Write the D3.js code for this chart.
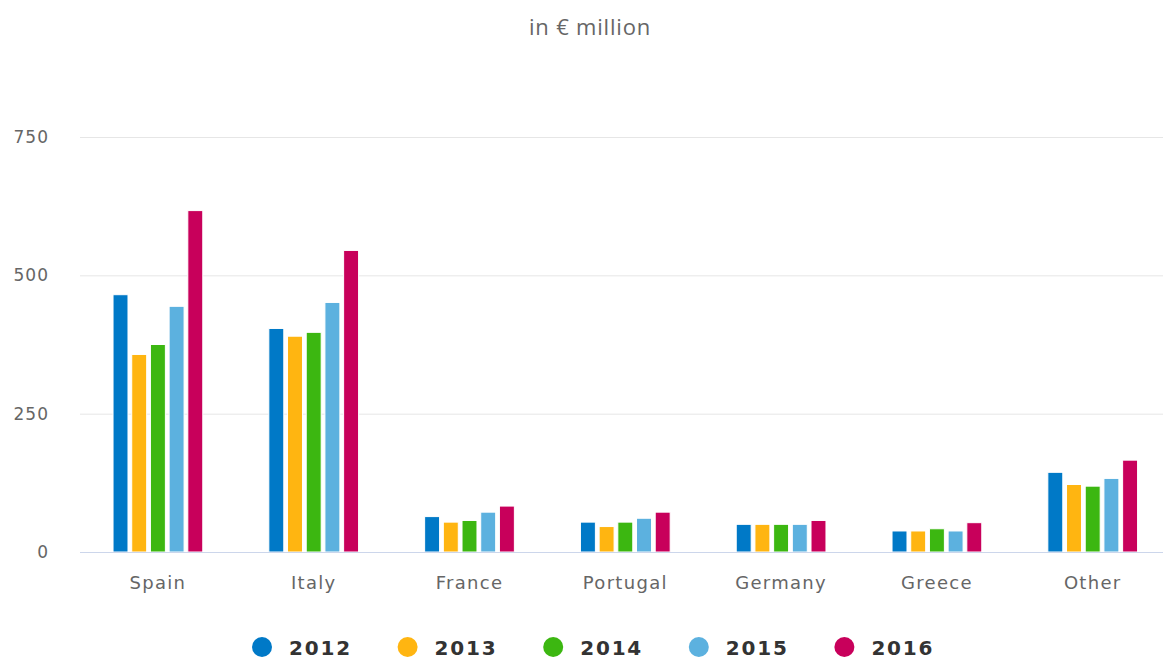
<!DOCTYPE html>
<style>
body { margin: 0; background: #fff; }
svg { display: block; }
.tick text { font-family: "DejaVu Sans", sans-serif; }
</style>
<svg width="1163" height="659"></svg>
<script src="https://d3js.org/d3.v7.min.js"></script>
<script>

var countries = ["Spain", "Italy", "France", "Portugal", "Germany", "Greece", "Other"];
var years = ["2012", "2013", "2014", "2015", "2016"];
var colors = ["#0079c7", "#ffb511", "#3cb711", "#5cb1df", "#c8005b"];
var yTicks = [0, 250, 500, 750];

// one array per year, values in € million, in country order
var v2012 = [465, 404, 64, 54, 50, 38, 144];
var v2013 = [357, 390, 54, 46, 50, 38, 122];
var v2014 = [375, 397, 57, 54, 50, 42, 119];
var v2015 = [444, 451, 72, 61, 50, 38, 133];
var v2016 = [617, 545, 83, 72, 57, 53, 166];
var series = [v2012, v2013, v2014, v2015, v2016];

var svg = d3.select("svg"),
    width = +svg.attr("width"),
    height = +svg.attr("height");

var plotLeft = 80, plotRight = 1170.6, plotTop = 137, plotBottom = 552;

var x0 = d3.scaleBand()
    .domain(countries)
    .range([plotLeft, plotRight]);

var bw = x0.bandwidth();
var x1 = d3.scaleBand()
    .domain(years)
    .range([0.2 * bw, 0.8 * bw])
    .paddingInner(0.2)
    .paddingOuter(0.1);

var y = d3.scaleLinear()
    .domain([0, 750])
    .range([plotBottom, plotTop]);

// subtitle
svg.append("text")
    .attr("x", 590)
    .attr("y", 35)
    .attr("text-anchor", "middle")
    .attr("fill", "#666")
    .style("font", "22px 'Open Sans', sans-serif")
    .style("letter-spacing", "0.8px")
    .text("in € million");

// grid + y labels
var yAxis = svg.append("g")
    .attr("transform", "translate(" + plotLeft + ",0)")
    .call(d3.axisLeft(y).tickValues(yTicks).tickSize(-(width - plotLeft)).tickPadding(31));
yAxis.select(".domain").remove();
yAxis.selectAll(".tick line").attr("stroke", "#e6e6e6").attr("stroke-width", 1);
yAxis.selectAll(".tick text")
    .attr("fill", "#666")
    .attr("font-size", 17)
    .style("letter-spacing", "1px");

// bars
var rows = [];
countries.forEach(function(c, i) {
    years.forEach(function(yr, j) {
        rows.push({country: c, year: yr, value: series[j][i], color: colors[j]});
    });
});

svg.append("g")
  .selectAll("rect")
  .data(rows)
  .enter().append("rect")
    .attr("x", function(d) { return x0(d.country) + x1(d.year); })
    .attr("y", function(d) { return y(d.value); })
    .attr("width", x1.bandwidth())
    .attr("height", function(d) { return y(0) - y(d.value); })
    .attr("fill", function(d) { return d.color; })
    .attr("stroke", "#fff")
    .attr("stroke-width", 1);

// x axis
var xAxis = svg.append("g")
    .attr("transform", "translate(0," + plotBottom + ")")
    .call(d3.axisBottom(x0).tickSize(0).tickPadding(24));
xAxis.select(".domain").attr("stroke", "#ccd6eb").attr("d", "M" + plotLeft + ",0.5H" + width);
xAxis.selectAll(".tick text")
    .attr("fill", "#666")
    .attr("font-size", 18)
    .style("letter-spacing", "1.3px");

// legend
var legend = svg.append("g")
  .selectAll("g")
  .data(years)
  .enter().append("g")
    .attr("transform", function(d, i) { return "translate(" + (262 + i * 145.6) + ",647)"; });

legend.append("circle")
    .attr("r", 10)
    .attr("fill", function(d, i) { return colors[i]; });

legend.append("text")
    .attr("x", 27)
    .attr("y", 8)
    .attr("fill", "#333")
    .style("font", "bold 20px 'DejaVu Sans', sans-serif")
    .style("letter-spacing", "1.8px")
    .text(function(d) { return d; });

</script>
